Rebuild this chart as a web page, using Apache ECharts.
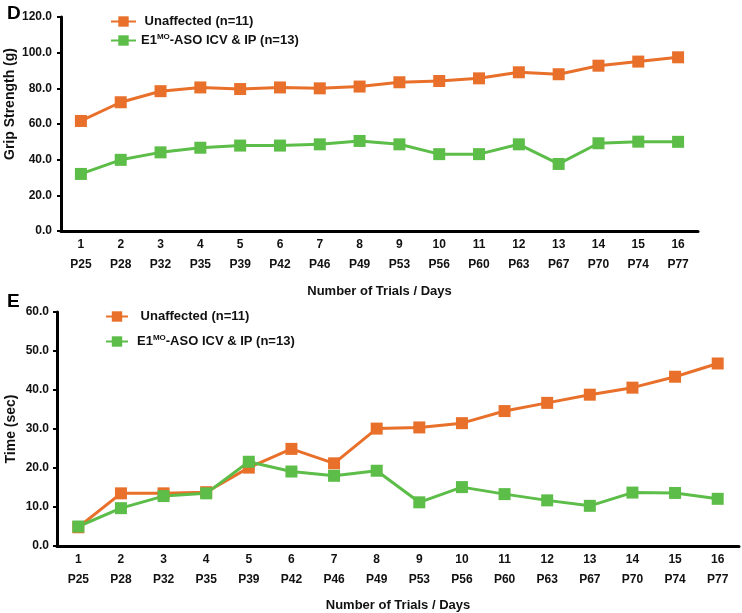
<!DOCTYPE html>
<html><head><meta charset="utf-8">
<script src="https://cdn.jsdelivr.net/npm/echarts@6/dist/echarts.min.js"></script>
<style>html,body{margin:0;padding:0;background:#fff}#c{width:742px;height:613px}</style>
</head><body><div id="c"></div>
<script>
var trials = ['1','2','3','4','5','6','7','8','9','10','11','12','13','14','15','16'];
var days = ['P25','P28','P32','P35','P39','P42','P46','P49','P53','P56','P60','P63','P67','P70','P74','P77'];
var gripUnaffected = [61.7,72.2,78.4,80.5,79.6,80.5,80.0,81.0,83.4,84.1,85.6,89.0,87.9,92.7,95.0,97.4];
var gripTreated = [32.0,39.9,44.1,46.7,47.9,47.9,48.6,50.5,48.6,43.1,43.1,48.6,37.6,49.2,50.1,50.0];
var timeUnaffected = [4.8,13.5,13.5,13.8,20.1,24.9,21.2,30.1,30.4,31.5,34.6,36.7,38.8,40.6,43.4,46.8];
var timeTreated = [5.0,9.7,12.8,13.5,21.6,19.1,18.0,19.3,11.2,15.1,13.3,11.7,10.3,13.7,13.6,12.1];
var gripTicks = [0,20,40,60,80,100,120];
var timeTicks = [0,10,20,30,40,50,60];

var nameA = ' Unaffected (n=11)';
var nameB = 'E1MO-ASO ICV & IP (n=13)';
var ORANGE = '#E8702B', GREEN = '#5CBD48';
var FONT = '"Liberation Sans", Arial, sans-serif';
var NARROW = '"Liberation Sans Narrow", "Arial Narrow", "Liberation Sans", Arial, sans-serif';

function xAxisCfg(gi, gap){
  return {
    type:'category', gridIndex:gi, data:trials, boundaryGap:true,
    axisLine:{lineStyle:{color:'#000',width:3}},
    axisTick:{alignWithLabel:true,length:3,inside:false,lineStyle:{color:'#000',width:3}},
    axisLabel:{margin:4,interval:0,
      formatter:function(v,i){return '{n|'+v+'}\n{p|'+days[i]+'}';},
      rich:{n:{fontFamily:NARROW,fontWeight:'bold',fontSize:12,color:'#111',lineHeight:20},
            p:{fontFamily:NARROW,fontWeight:'bold',fontSize:12,color:'#111',lineHeight:20}}},
    name:'Number of Trials / Days', nameLocation:'middle', nameGap:gap, nameMoveOverlap:false,
    nameTextStyle:{fontFamily:NARROW,fontWeight:'bold',fontSize:13,color:'#111'}
  };
}
function yAxisCfg(gi, ticks, name, gap, margin, padL){
  return {
    type:'value', gridIndex:gi, min:ticks[0], max:ticks[ticks.length-1], interval:ticks[1]-ticks[0],
    splitLine:{show:false},
    axisLine:{show:true,lineStyle:{color:'#000',width:3}},
    axisTick:{show:true,length:4,lineStyle:{color:'#000',width:2}},
    axisLabel:{margin:margin,fontFamily:FONT,fontWeight:'bold',fontSize:12,color:'#111',
      formatter:function(v){return v.toFixed(1);}},
    name:name, nameLocation:'middle', nameGap:gap, nameRotate:90, nameMoveOverlap:false,
    nameTextStyle:{fontFamily:FONT,fontWeight:'bold',fontSize:14,color:'#111',padding:[0,0,0,padL]}
  };
}
function ser(name, data, color, gi){
  return {type:'line', name:name, data:data, xAxisIndex:gi, yAxisIndex:gi,
    symbol:'rect', symbolSize:12, showSymbol:true,
    lineStyle:{color:color,width:3}, itemStyle:{color:color}, z: 3};
}
function legendCfg(left, top, gap, w, padT){
  return {orient:'vertical', left:left, top:top, itemWidth:w, itemHeight:13, itemGap:gap,
    data:[nameA,nameB],
    formatter:function(n){ if(n===nameB) return '{t|E1}{s|MO}{t|-ASO ICV & IP (n=13)}'; return '{t|'+n+'}'; },
    textStyle:{fontFamily:FONT,fontWeight:'bold',fontSize:13,color:'#111',padding:[0,0,0,padT],
      rich:{t:{fontFamily:FONT,fontWeight:'bold',fontSize:13,color:'#111',lineHeight:15},
            s:{fontFamily:FONT,fontWeight:'bold',fontSize:8,color:'#111',verticalAlign:'top',lineHeight:9}}}};
}

var chart = echarts.init(document.getElementById('c'), null, {renderer:'canvas'});
chart.setOption({
  animation:false,
  graphic:[
    {type:'text',left:7,top:4,style:{text:'D',font:'bold 19px "Liberation Sans", Arial, sans-serif',fill:'#000'}},
    {type:'text',left:7,top:292,style:{text:'E',font:'bold 19px "Liberation Sans", Arial, sans-serif',fill:'#000'}}
  ],
  grid:[
    {left:61,width:637,top:17,height:214,containLabel:false,outerBoundsMode:'none'},
    {left:57,width:682,top:312,height:234,containLabel:false,outerBoundsMode:'none'}
  ],
  legend:[legendCfg(105,10,5,25,0), legendCfg(100,305,11,22,4)],
  xAxis:[xAxisCfg(0,54), xAxisCfg(1,53)],
  yAxis:[yAxisCfg(0,gripTicks,'Grip Strength (g)',44,9,40), yAxisCfg(1,timeTicks,'Time (sec)',39,8,0)],
  series:[
    ser(nameA,gripUnaffected,ORANGE,0),
    ser(nameB,gripTreated,GREEN,0),
    ser(nameA,timeUnaffected,ORANGE,1),
    ser(nameB,timeTreated,GREEN,1)
  ]
});
</script></body></html>
